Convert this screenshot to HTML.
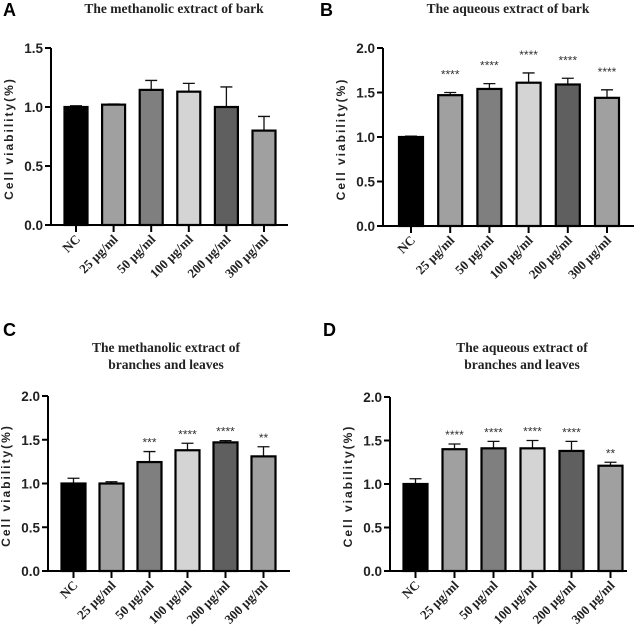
<!DOCTYPE html>
<html><head><meta charset="utf-8"><style>
body{margin:0;background:#fff;}
svg{display:block;}
.tk{font-family:"Liberation Sans",sans-serif;font-weight:bold;font-size:13.5px;fill:#222;}
.tt{font-family:"Liberation Serif",serif;font-weight:bold;font-size:13.5px;fill:#222;}
.cat{font-family:"Liberation Serif",serif;font-weight:bold;font-size:13px;fill:#222;}
.yl{font-family:"Liberation Sans",sans-serif;font-weight:bold;font-size:12px;fill:#222;letter-spacing:2px;}
.pl{font-family:"Liberation Sans",sans-serif;font-weight:bold;font-size:18px;fill:#000;}
.st{font-family:"Liberation Sans",sans-serif;font-size:12px;fill:#333;}
</style></head><body>
<svg id="fig" width="640" height="631" xmlns="http://www.w3.org/2000/svg"></svg>
<script>
const categories = ["NC","25 μg/ml","50 μg/ml","100 μg/ml","200 μg/ml","300 μg/ml"];
const colors = ["#000","#a0a0a0","#7f7f7f","#d4d4d4","#5f5f5f","#a0a0a0"];
const valuesA = [1.0,1.02,1.145,1.13,1.0,0.80];
const errorsA = [0.01,0.005,0.08,0.07,0.17,0.12];
const starsA = ["","","","","",""];
const valuesB = [1.0,1.47,1.54,1.61,1.59,1.44];
const errorsB = [0.01,0.03,0.06,0.11,0.07,0.09];
const starsB = ["","****","****","****","****","****"];
const valuesC = [1.0,1.0,1.245,1.38,1.47,1.31];
const errorsC = [0.06,0.02,0.12,0.08,0.02,0.11];
const starsC = ["","","***","****","****","**"];
const valuesD = [1.0,1.40,1.41,1.41,1.38,1.21];
const errorsD = [0.06,0.06,0.08,0.09,0.11,0.04];
const starsD = ["","****","****","****","****","**"];
const ticksA = ["0.0","0.5","1.0","1.5"];
const ticks2 = ["0.0","0.5","1.0","1.5","2.0"];

const NS="http://www.w3.org/2000/svg";
const svg=document.getElementById('fig');
function mk(tag,attrs,parent,text){const e=document.createElementNS(NS,tag);for(const k in attrs)e.setAttribute(k,attrs[k]);if(text!==undefined)e.textContent=text;(parent||svg).appendChild(e);return e;}

const panels=[
 {id:"a",letter:"A",lx:3,ly:16,title:["The methanolic extract of bark"],ty:[13],tx:174,ax:51,y0:225,yTop:48,vmax:1.5,ticks:ticksA,xEnd:288,c0:76,sp:37.6,bw:23,vals:valuesA,errs:errorsA,stars:starsA,soff:14},
 {id:"b",letter:"B",lx:320,ly:16,title:["The aqueous extract of bark"],ty:[13],tx:508,ax:383,y0:226,yTop:48,vmax:2,ticks:ticks2,xEnd:634,c0:411,sp:39.2,bw:24,vals:valuesB,errs:errorsB,stars:starsB,soff:14},
 {id:"c",letter:"C",lx:3,ly:336,title:["The methanolic extract of","branches and leaves"],ty:[352,369],tx:166,ax:48,y0:571,yTop:396,vmax:2,ticks:ticks2,xEnd:290,c0:73.5,sp:38,bw:24,vals:valuesC,errs:errorsC,stars:starsC,soff:5},
 {id:"d",letter:"D",lx:323,ly:336,title:["The aqueous extract of","branches and leaves"],ty:[352,369],tx:522,ax:390,y0:571,yTop:397,vmax:2,ticks:ticks2,xEnd:627,c0:415.5,sp:39,bw:24,vals:valuesD,errs:errorsD,stars:starsD,soff:5}
];

panels.forEach(p=>{
  const g=mk('g',{});
  
  
  const y=v=>p.y0-(v/p.vmax)*(p.y0-p.yTop);
  const x=i=>p.c0+i*p.sp;
  const L=mk('text',{x:p.lx,y:p.ly,class:'pl'},g,p.letter);
  
  
  p.title.forEach((t,k)=>{const T=mk('text',{x:p.tx,y:p.ty[k],class:'tt','text-anchor':'middle'},g,t);
    
    });
  p.vals.forEach((v,i)=>{
    const e=p.errs[i], top=y(v+e);
    const eb=mk('path',{d:`M${x(i)} ${y(v)}V${top}M${x(i)-6} ${top}H${x(i)+6}`,stroke:'#111','stroke-width':1.3,fill:'none'},g);
    
    
    const r=mk('rect',{x:x(i)-p.bw/2,y:y(v),width:p.bw,height:p.y0-y(v),fill:colors[i],stroke:'#000','stroke-width':2.2},g);
    
    
    if(p.stars[i]){const s=mk('text',{x:x(i),y:top-p.soff,class:'st','text-anchor':'middle'},g,p.stars[i]);
      
      }
    mk('line',{x1:x(i),x2:x(i),y1:p.y0,y2:p.y0+7,stroke:'#000','stroke-width':2},g);
    const c=mk('text',{class:'cat','text-anchor':'end',transform:`translate(${x(i)+5},${p.y0+15}) rotate(-45)`},g,categories[i]);
    
    
  });
  const ax=mk('path',{d:`M${p.ax} ${p.yTop}V${p.y0}H${p.xEnd}`,stroke:'#000','stroke-width':2,fill:'none'},g);
  
  
  p.ticks.forEach(t=>{const v=parseFloat(t);
    mk('line',{x1:p.ax-6,x2:p.ax,y1:y(v),y2:y(v),stroke:'#000','stroke-width':2},g);
    const tl=mk('text',{x:p.ax-8,y:y(v)+5,class:'tk','text-anchor':'end'},g,t);
    
    });
  const cy=(p.y0+p.yTop)/2+2;
  const yl=mk('text',{class:'yl','text-anchor':'middle',transform:`translate(${p.ax-38},${cy}) rotate(-90)`},g,'Cell viability(%)');
  
  
});
</script>
</body></html>
